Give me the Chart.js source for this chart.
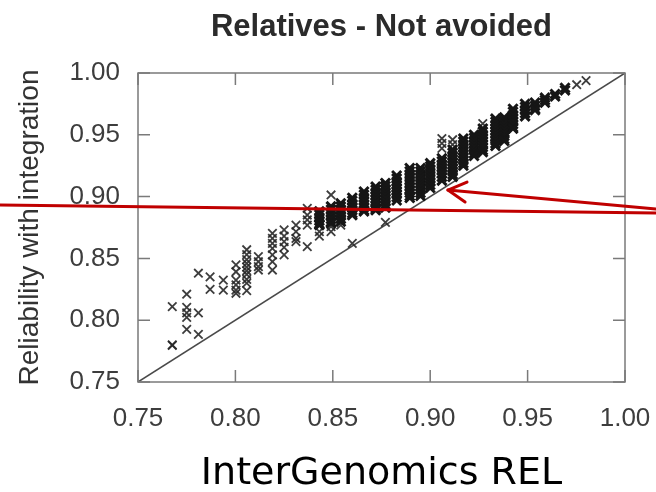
<!DOCTYPE html>
<html>
<head>
<meta charset="utf-8">
<script src="https://cdn.jsdelivr.net/npm/chart.js@4.4.1/dist/chart.umd.min.js"></script>
<style>
  html, body { margin: 0; padding: 0; background: #ffffff; }
  #c { display: block; }
</style>
</head>
<body>
<canvas id="c" width="656" height="492"></canvas>
<script>
// ---------- data ----------
const chartTitle = 'Relatives - Not avoided';
const xAxisTitle = 'InterGenomics REL';
const yAxisTitle = 'Reliability with integration';
const xTickValues = [0.75, 0.80, 0.85, 0.90, 0.95, 1.00];
const yTickValues = [0.75, 0.80, 0.85, 0.90, 0.95, 1.00];
const diagonal = [0.75, 1.00];   // y = x reference line

// isolated / lightly overlapping markers: column x and the y values in it
const sparseX = [
  0.7676, 0.7750, 0.7810, 0.7870, 0.7938, 0.8003, 0.8058, 0.8118, 0.8190, 0.8250,
  0.8311, 0.8369, 0.8431, 0.8491, 0.8541, 0.8600, 0.8770, 0.9060, 0.9115, 0.9270,
  0.9752, 0.9800
];
const sparseY = [
  [0.7797, 0.7800, 0.811],
  [0.821, 0.8104, 0.806, 0.8023, 0.7926],
  [0.838, 0.806, 0.7886],
  [0.835, 0.825],
  [0.8325, 0.8244],
  [0.8447, 0.8392, 0.8325, 0.8285, 0.8244, 0.8218],
  [0.857, 0.853, 0.849, 0.846, 0.843, 0.840, 0.837, 0.833, 0.830, 0.824],
  [0.8514, 0.8473, 0.8433, 0.8406],
  [0.8703, 0.8662, 0.8622, 0.8581, 0.8528, 0.8473, 0.8406],
  [0.873, 0.8681, 0.8635, 0.859, 0.8528],
  [0.877, 0.8716, 0.8662, 0.8635],
  [0.8905, 0.8851, 0.8811, 0.877, 0.8595],
  [0.8716, 0.8681],
  [0.9013, 0.8757, 0.8716],
  [0.877],
  [0.8622],
  [0.8792],
  [0.947, 0.943, 0.939],
  [0.946, 0.942],
  [0.959],
  [0.9905],
  [0.9938]
];

// heavily overlapping markers that merge into dark columns
const denseX = [
  0.8431, 0.8491, 0.8541, 0.8600, 0.8660, 0.8720, 0.8770, 0.8828, 0.8895, 0.8950,
  0.9000, 0.9060, 0.9115, 0.9170, 0.9225, 0.9270, 0.9335, 0.9380, 0.9425, 0.9487,
  0.9538, 0.9589, 0.9641, 0.9692
];
const denseY = [
  [0.888, 0.8855, 0.883, 0.8805, 0.878, 0.877],
  [0.892, 0.8895, 0.887, 0.8845, 0.882, 0.8795, 0.8784],
  [0.8946, 0.892, 0.8895, 0.887, 0.8845, 0.882, 0.8797],
  [0.899, 0.8965, 0.894, 0.8915, 0.889, 0.8865, 0.885],
  [0.904, 0.9015, 0.899, 0.8965, 0.894, 0.8915, 0.889, 0.888],
  [0.908, 0.9055, 0.903, 0.9005, 0.898, 0.8955, 0.893, 0.8905, 0.889],
  [0.911, 0.9085, 0.906, 0.9035, 0.901, 0.8985, 0.896, 0.8935, 0.891],
  [0.917, 0.9145, 0.912, 0.9095, 0.907, 0.9045, 0.902, 0.8995, 0.897],
  [0.923, 0.9205, 0.918, 0.9155, 0.913, 0.9105, 0.908, 0.9055, 0.903, 0.9005, 0.899],
  [0.923, 0.9205, 0.918, 0.9155, 0.913, 0.9105, 0.908, 0.9055, 0.903, 0.9005],
  [0.927, 0.9245, 0.922, 0.9195, 0.917, 0.9145, 0.912, 0.9095, 0.907],
  [0.931, 0.9285, 0.926, 0.9235, 0.921, 0.9185, 0.916, 0.913],
  [0.938, 0.9355, 0.933, 0.9305, 0.928, 0.9255, 0.923, 0.9205, 0.918, 0.916],
  [0.947, 0.9445, 0.942, 0.9395, 0.937, 0.9345, 0.932, 0.9295, 0.927, 0.925],
  [0.950, 0.9475, 0.945, 0.9425, 0.940, 0.9375, 0.935, 0.933],
  [0.955, 0.9525, 0.950, 0.9475, 0.945, 0.9425, 0.940, 0.9375, 0.936],
  [0.963, 0.9605, 0.958, 0.9555, 0.953, 0.9505, 0.948, 0.9455, 0.943, 0.941],
  [0.964, 0.9615, 0.959, 0.9565, 0.954, 0.9515, 0.949, 0.9465, 0.945],
  [0.971, 0.9685, 0.966, 0.9635, 0.961, 0.9585, 0.956, 0.955],
  [0.975, 0.9725, 0.970, 0.9675, 0.965],
  [0.976, 0.9735, 0.971, 0.970],
  [0.980, 0.978, 0.976],
  [0.983, 0.981],
  [0.988, 0.986]
];

// red slide annotations, in data units (they run past the plot frame)
const redLine  = [[0.6792, 0.8932], [1.0159, 0.8867]];
const redArrow = [[1.0159, 0.8900], [0.9091, 0.9053]];
const arrowHead = [[0.9189, 0.9118], [0.9091, 0.9053], [0.9179, 0.8956]];

// ---------- build ----------
const toPoints = (xs, ys) => {
  const out = [];
  xs.forEach((x, i) => ys[i].forEach(y => out.push({ x: x, y: y })));
  return out;
};
const sparsePts = toPoints(sparseX, sparseY);
const densePts = toPoints(denseX, denseY);
const diagPts = diagonal.map(v => ({ x: v, y: v }));

const SANS = "'Liberation Sans', Arial, Helvetica, sans-serif";

const framePlugin = {
  id: 'frame',
  afterDatasetsDraw(chart) {
    const { ctx, chartArea: a, scales: { x, y } } = chart;
    ctx.save();
    ctx.strokeStyle = '#7a7a7a';
    ctx.lineWidth = 1.5;
    ctx.strokeRect(a.left, a.top, a.right - a.left, a.bottom - a.top);
    const L = 12;
    ctx.beginPath();
    xTickValues.forEach(v => {
      const px = x.getPixelForValue(v);
      ctx.moveTo(px, a.bottom); ctx.lineTo(px, a.bottom - L);
      ctx.moveTo(px, a.top); ctx.lineTo(px, a.top + L);
    });
    yTickValues.forEach(v => {
      const py = y.getPixelForValue(v);
      ctx.moveTo(a.left, py); ctx.lineTo(a.left + L, py);
      ctx.moveTo(a.right, py); ctx.lineTo(a.right - L, py);
    });
    ctx.stroke();
    ctx.restore();
  }
};

const annotationPlugin = {
  id: 'redAnnotations',
  afterDraw(chart) {
    const { ctx, scales: { x, y } } = chart;
    const P = p => [x.getPixelForValue(p[0]), y.getPixelForValue(p[1])];
    ctx.save();
    ctx.strokeStyle = '#c00000';
    ctx.lineWidth = 3;
    ctx.lineCap = 'round';
    ctx.lineJoin = 'round';
    [redLine, redArrow, arrowHead].forEach(path => {
      ctx.beginPath();
      path.forEach((p, i) => {
        const [px, py] = P(p);
        if (i === 0) ctx.moveTo(px, py); else ctx.lineTo(px, py);
      });
      ctx.stroke();
    });
    ctx.restore();
  }
};

new Chart(document.getElementById('c'), {
  type: 'scatter',
  data: {
    datasets: [
      {
        type: 'line',
        data: diagPts,
        borderColor: '#4a4a4a',
        borderWidth: 1.5,
        pointRadius: 0,
        fill: false,
        order: 3
      },
      {
        data: sparsePts,
        pointStyle: 'crossRot',
        pointRadius: 6,
        pointBorderWidth: 1.8,
        borderColor: 'rgba(40,40,40,0.9)',
        backgroundColor: 'rgba(40,40,40,0.9)',
        order: 2
      },
      {
        data: densePts,
        pointStyle: 'crossRot',
        pointRadius: 6.5,
        pointBorderWidth: 2.9,
        borderColor: '#161616',
        backgroundColor: '#161616',
        order: 1
      }
    ]
  },
  options: {
    responsive: false,
    animation: false,
    layout: { padding: { left: 0, right: 31, top: 0, bottom: 0 } },
    plugins: {
      legend: { display: false },
      tooltip: { enabled: false },
      title: {
        display: true,
        text: chartTitle,
        fullSize: false,
        color: '#2b2b2b',
        font: { family: SANS, size: 31, weight: 'bold', lineHeight: 1.2 },
        padding: { top: 9, bottom: 26.8 }
      }
    },
    scales: {
      x: {
        type: 'linear',
        min: 0.75, max: 1.0,
        afterBuildTicks: s => { s.ticks = xTickValues.map(v => ({ value: v })); },
        afterFit: s => { s.height = 110; },
        grid: { display: false, drawTicks: false, tickLength: 0 },
        border: { display: false },
        ticks: {
          padding: 0,
          color: '#3d3d3d',
          font: { family: SANS, size: 26, lineHeight: 2.85 },
          callback: v => Number(v).toFixed(2),
          maxRotation: 0
        },
        title: {
          display: true,
          text: xAxisTitle,
          color: '#000000',
          font: { family: "'DejaVu Sans', Verdana, sans-serif", size: 38, lineHeight: 0.94 },
          padding: { top: 0, bottom: 0 }
        }
      },
      y: {
        type: 'linear',
        min: 0.75, max: 1.0,
        afterBuildTicks: s => { s.ticks = yTickValues.map(v => ({ value: v })); },
        afterFit: s => { s.width = 138; },
        grid: { display: false, drawTicks: false, tickLength: 0 },
        border: { display: false },
        ticks: {
          padding: 18,
          color: '#3d3d3d',
          font: { family: SANS, size: 26, lineHeight: 1.2 },
          callback: v => Number(v).toFixed(2)
        },
        title: {
          display: true,
          text: yAxisTitle,
          color: '#333333',
          font: { family: SANS, size: 28, lineHeight: 1.2 },
          padding: { top: 13, bottom: 0 }
        }
      }
    }
  },
  plugins: [framePlugin, annotationPlugin]
});
</script>
</body>
</html>
